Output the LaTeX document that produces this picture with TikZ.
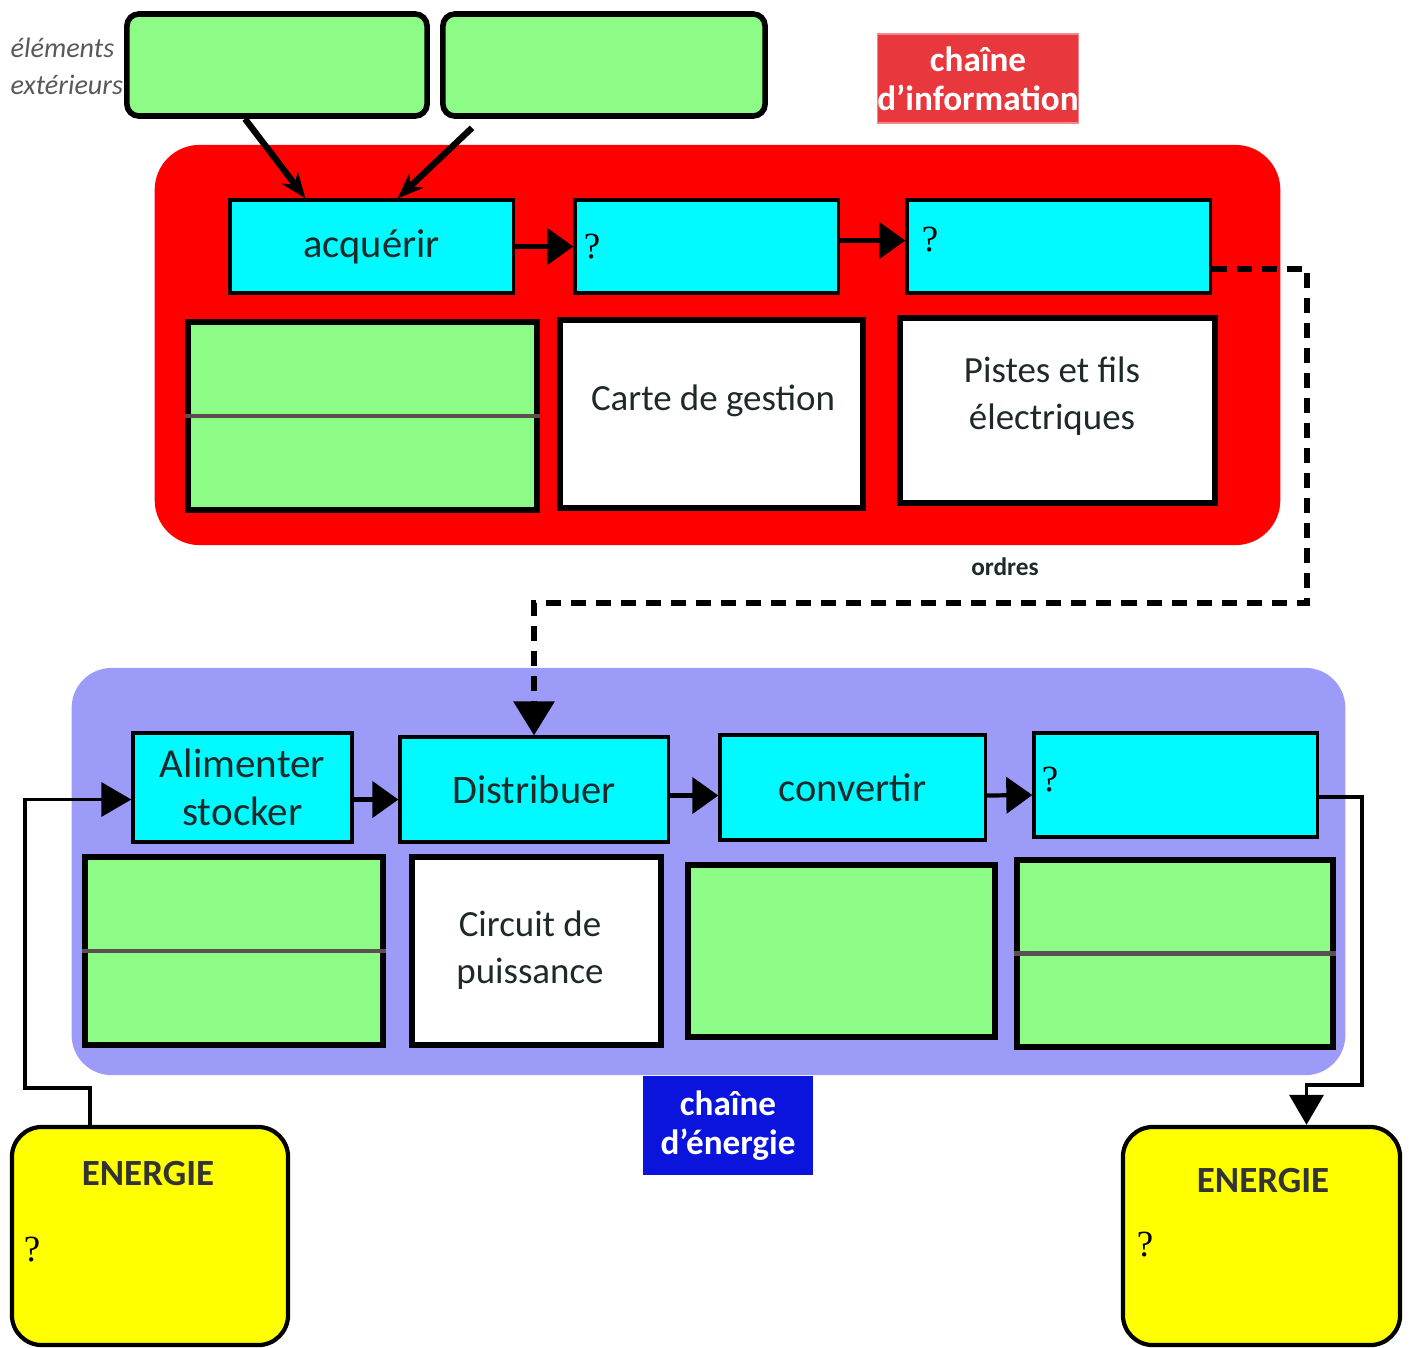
\documentclass[tikz,border=0pt]{standalone}
\usepackage{fontspec}
\setmainfont{Carlito}
\newfontfamily\qfont{Liberation Serif}
\usetikzlibrary{arrows.meta,calc}
\definecolor{boxgreen}{HTML}{8CFC86}
\definecolor{boxcyan}{HTML}{00FAFF}
\definecolor{zonered}{HTML}{FF0000}
\definecolor{zoneblue}{HTML}{9C9CF8}
\definecolor{labred}{HTML}{E8383D}
\definecolor{labblue}{HTML}{0A14DC}
\definecolor{boxyellow}{HTML}{FFFF00}
\definecolor{textdark}{HTML}{1E2A2A}
\definecolor{divgray}{HTML}{5A5050}

\begin{document}
\begin{tikzpicture}[x=0.01cm,y=-0.01cm,
  zone/.style={rounded corners=0.45cm,inner sep=0},
  extbox/.style={draw=black,line width=1.6pt,fill=boxgreen,rounded corners=0.12cm,inner sep=0},
  fonc/.style={draw=black,line width=0.9pt,fill=boxcyan,inner sep=0,text=textdark,
    font=\fontsize{11.5}{13}\selectfont,align=center},
  solbox/.style={draw=black,line width=1.8pt,inner sep=0},
  soltext/.style={inner sep=0,text=textdark,font=\fontsize{10.5}{13.5}\selectfont,align=center},
  divider/.style={draw=divgray,line width=1.4pt},
  chainlab/.style={inner sep=0,text=white,font=\bfseries\fontsize{10}{11.2}\selectfont,align=center},
  energie/.style={draw=black,line width=1.2pt,fill=boxyellow,rounded corners=0.3cm,inner sep=0},
  quest/.style={inner sep=0,font=\qfont\fontsize{10.5}{12}\selectfont},
  flow/.style={line width=1.2pt,-{Triangle[length=0.26cm,width=0.36cm]}},
  acqin/.style={line width=1.8pt,-{Stealth[length=0.26cm,width=0.2cm]}},
  ordres/.style={line width=1.7pt,dash pattern=on 0.15cm off 0.1cm,-{Triangle[length=0.34cm,width=0.4cm]}},
  power/.style={line width=1pt,-{Triangle[length=0.3cm,width=0.34cm]}}]
\useasboundingbox (0,0) rectangle (1409,1347);

% zones
\node[zone,fill=zonered,minimum width=11.25cm,minimum height=4cm] (info) at (717.5,345) {};
\node[zone,fill=zoneblue,rounded corners=0.4cm,minimum width=12.73cm,minimum height=4.07cm] (ener) at (708.5,871.5) {};
\node[chainlab,fill=labred,draw=labred!60,minimum width=1.98cm,minimum height=0.89cm] (infolab) at (978,78.5) {chaîne\\d’information};
\node[chainlab,fill=labblue,minimum width=1.70cm,minimum height=0.99cm] (enerlab) at (728,1125.5) {chaîne\\d’énergie};

% elements exterieurs
\node[anchor=west,inner sep=0,align=left,text=black!65,font=\itshape\fontsize{8}{10.6}\selectfont] (extlab) at (10,66) {éléments\\extérieurs};
\node[extbox,minimum width=3cm,minimum height=1.02cm] (ext1) at (277,65) {};
\node[extbox,minimum width=3.22cm,minimum height=1.02cm] (ext2) at (604,65) {};

% chaine d'information
\node[fonc,minimum width=2.83cm,minimum height=0.93cm] (acq) at (371.5,246.5) {acquérir};
\node[fonc,minimum width=2.63cm,minimum height=0.93cm] (trait) at (706.5,246.5) {};
\node[fonc,minimum width=3.03cm,minimum height=0.93cm] (comm) at (1058.5,246.5) {};
\node[solbox,fill=boxgreen,minimum width=3.49cm,minimum height=1.88cm] (capt) at (362.5,416) {};
\draw[divider] (capt.west) -- (capt.east);
\node[solbox,fill=white,minimum width=3.03cm,minimum height=1.88cm] (carte) at (711.5,414) {};
\node[soltext] (carte-t) at (713,401) {Carte de gestion};
\node[solbox,fill=white,minimum width=3.15cm,minimum height=1.85cm] (pistes) at (1057.5,410.5) {};
\node[soltext] (pistes-t) at (1052,396) {Pistes et fils\\électriques};

\draw[acqin] ($(ext1.south)+(-32,0)$) -- ($(acq.north)+(-66,0)$);
\draw[acqin] ($(ext2.south)+(-132,9)$) -- ($(acq.north)+(26,0)$);
\draw[flow] (acq) -- (trait);
\draw[flow] ($(trait.east)+(0,-6)$) -- ($(comm.west)+(0,-6)$);

% chaine d'energie
\node[fonc,minimum width=2.19cm,minimum height=1.09cm,font=\fontsize{11.7}{13.5}\selectfont] (alim) at (242.5,787.5) {Alimenter\\stocker};
\node[fonc,minimum width=2.68cm,minimum height=1.05cm] (dist) at (534,789.5) {Distribuer};
\node[fonc,minimum width=2.65cm,minimum height=1.05cm] (conv) at (852.5,787.5) {convertir};
\node[fonc,minimum width=2.83cm,minimum height=1.04cm] (trans) at (1175.5,785) {};
\node[solbox,fill=boxgreen,minimum width=2.98cm,minimum height=1.88cm] (batt) at (234,951) {};
\draw[divider] (batt.west) -- (batt.east);
\node[solbox,fill=white,minimum width=2.49cm,minimum height=1.88cm] (circ) at (536.5,951) {};
\node[soltext] (circ-t) at (530,950) {Circuit de\\puissance};
\node[solbox,fill=boxgreen,minimum width=3.07cm,minimum height=1.72cm] (mot) at (841.5,951) {};
\node[solbox,fill=boxgreen,minimum width=3.16cm,minimum height=1.87cm] (meca) at (1175,953.5) {};
\draw[divider] (meca.west) -- (meca.east);

\draw[flow] ($(alim.east)+(0,12)$) -- ($(dist.west)+(0,10)$);
\draw[flow] ($(dist.east)+(0,6)$) -- ($(conv.west)+(0,8)$);
\draw[flow] ($(conv.east)+(0,8)$) -- ($(trans.west)+(0,10)$);

% ordres
\coordinate (o1) at (1307,603);
\node[inner sep=0,font=\bfseries\fontsize{7.2}{9}\selectfont,text=textdark] (ordlab) at (1005,567) {ordres};
\draw[ordres] ($(comm.east)+(0,22)$) -| (o1) -| (dist.north);

% energie
\node[energie,minimum width=2.76cm,minimum height=2.18cm] (enin) at (150,1236) {};
\node[energie,minimum width=2.77cm,minimum height=2.18cm] (enout) at (1261.5,1236) {};
\node[inner sep=0,font=\bfseries\fontsize{10.5}{12}\selectfont,text=black!80] (enin-t) at (148,1173) {ENERGIE};
\node[inner sep=0,font=\bfseries\fontsize{10.5}{12}\selectfont,text=black!80] (enout-t) at (1263,1180) {ENERGIE};
\coordinate (l1) at (25,1088);
\coordinate (r1) at (1362,1085);
\draw[power] ($(enin.north)+(-60,0)$) |- (l1) |- ($(alim.west)+(0,12)$);
\draw[power] ($(trans.east)+(0,12)$) -| (r1) -| ($(enout.north)+(45,0)$);

% points d'interrogation
\foreach \name/\pos in {q1/{(592,247)},q2/{(930,240)},q3/{(1050,780)},q4/{(32,1250)},q5/{(1145,1245)}}
{ \node[quest] (\name) at \pos {?};
}
\end{tikzpicture}
\end{document}
